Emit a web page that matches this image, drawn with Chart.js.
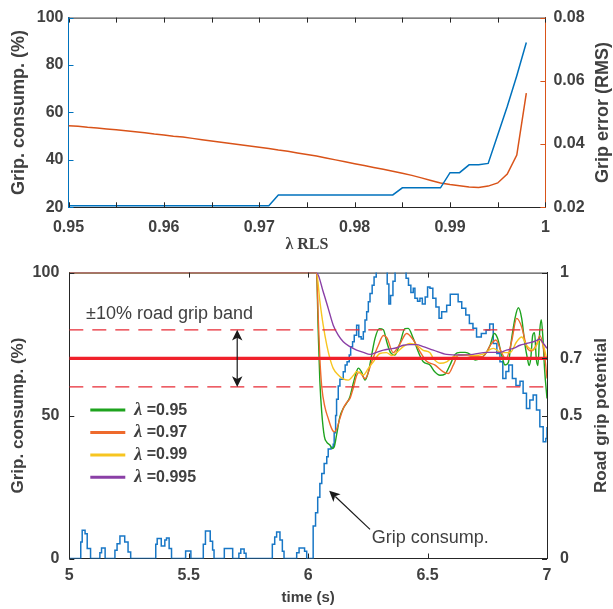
<!DOCTYPE html>
<html>
<head>
<meta charset="utf-8">
<script src="https://cdn.jsdelivr.net/npm/chart.js@4.4.1/dist/chart.umd.min.js"></script>
<style>
    html, body { margin: 0; padding: 0; background: #fff; }
    body { width: 613px; height: 609px; position: relative; overflow: hidden; }
    .panel { position: absolute; left: 0; width: 613px; }
    #topPanel { top: 0; height: 262px; }
    #bottomPanel { top: 250px; height: 359px; }
</style>
</head>
<body>
<div class="panel" id="topPanel"><canvas id="chartTop"></canvas></div>
<div class="panel" id="bottomPanel"><canvas id="chartBottom"></canvas></div>
<script>
// ---- top panel: sweep of the RLS forgetting factor ----
const lambdaRls = [0.950, 0.951, 0.952, 0.953, 0.954, 0.955, 0.956, 0.957, 0.958, 0.959,
    0.960, 0.961, 0.962, 0.963, 0.964, 0.965, 0.966, 0.967, 0.968, 0.969,
    0.970, 0.971, 0.972, 0.973, 0.974, 0.975, 0.976, 0.977, 0.978, 0.979,
    0.980, 0.981, 0.982, 0.983, 0.984, 0.985, 0.986, 0.987, 0.988, 0.989,
    0.990, 0.991, 0.992, 0.993, 0.994, 0.995, 0.996, 0.997, 0.998];
const gripConsTop = [20.7, 20.7, 20.7, 20.7, 20.7, 20.7, 20.7, 20.7, 20.7, 20.7,
    20.7, 20.7, 20.7, 20.7, 20.7, 20.7, 20.7, 20.7, 20.7, 20.7,
    20.7, 20.7, 25.2, 25.2, 25.2, 25.2, 25.2, 25.2, 25.2, 25.2,
    25.2, 25.2, 25.2, 25.2, 25.2, 28.2, 28.2, 28.2, 28.2, 28.2,
    34.6, 34.6, 37.9, 37.9, 38.5, 50.5, 62.5, 75.5, 89.5];
const gripErrRms = [0.0458, 0.0456, 0.0453, 0.0451, 0.0448, 0.0445, 0.0442, 0.0439, 0.0436, 0.0432,
    0.0429, 0.0425, 0.0422, 0.0418, 0.0414, 0.0410, 0.0406, 0.0402, 0.0398, 0.0394,
    0.0390, 0.0386, 0.0381, 0.0377, 0.0372, 0.0367, 0.0362, 0.0356, 0.0350, 0.0344,
    0.0338, 0.0332, 0.0326, 0.0320, 0.0314, 0.0308, 0.0301, 0.0293, 0.0285, 0.0277,
    0.0272, 0.0268, 0.0264, 0.0263, 0.0267, 0.0277, 0.0305, 0.0365, 0.0561];

// ---- bottom panel: time response ----
const timeRange = [5, 7];
const tGrip = [5, 5.048, 5.054, 5.066, 5.075, 5.089, 5.128, 5.135, 5.150, 5.191,
    5.200, 5.212, 5.232, 5.246, 5.257, 5.362, 5.368, 5.385, 5.400, 5.407,
    5.418, 5.428, 5.487, 5.509, 5.561, 5.570, 5.590, 5.600, 5.606, 5.649,
    5.684, 5.710, 5.718, 5.732, 5.740, 5.850, 5.860, 5.868, 5.882, 5.892,
    5.899, 5.952, 5.962, 5.985, 5.994, 6.021, 6.031, 6.040, 6.049, 6.057,
    6.067, 6.078, 6.084, 6.096, 6.105, 6.109, 6.115, 6.119, 6.126, 6.133,
    6.147, 6.155, 6.163, 6.172, 6.178, 6.186, 6.193, 6.203, 6.212, 6.222,
    6.231, 6.238, 6.245, 6.252, 6.259, 6.268, 6.276, 6.285, 6.331, 6.338,
    6.345, 6.355, 6.364, 6.410, 6.420, 6.430, 6.440, 6.447, 6.458, 6.468,
    6.478, 6.490, 6.500, 6.510, 6.522, 6.535, 6.548, 6.559, 6.580, 6.595,
    6.615, 6.628, 6.643, 6.660, 6.675, 6.690, 6.705, 6.725, 6.745, 6.760,
    6.775, 6.790, 6.803, 6.815, 6.828, 6.840, 6.855, 6.870, 6.887, 6.900,
    6.914, 6.928, 6.942, 6.956, 6.970, 6.984, 6.995, 7];
const vGrip = [0, 5.8, 9.9, 8.7, 3.5, 0, 2.0, 3.7, 0, 2.9,
    5.2, 7.9, 5.8, 2.3, 0, 5.0, 7.0, 4.4, 6.5, 7.2,
    3.5, 0, 2.6, 0, 5.0, 9.6, 6.0, 3.0, 0, 3.5,
    0, 1.8, 3.3, 1.8, 0, 5.0, 7.5, 9.3, 6.5, 2.5,
    0, 2.0, 3.7, 2.5, 0, 11.4, 16, 21.4, 26.2, 29.7,
    33.2, 35.6, 38.3, 38.9, 40, 44, 50, 55.7, 60.3, 62.7,
    65.3, 67.7, 68.8, 71.2, 74.1, 75.8, 78.1, 81.6, 77.6, 76.8,
    79.3, 83.4, 86.3, 89.8, 92.7, 95.6, 98.5, 102, 96, 89,
    92, 97, 102, 98, 95.6, 93, 94.5, 91, 90, 91,
    89, 91.5, 95, 94.5, 91, 88, 84, 86.3, 88.6, 92.4,
    92.4, 89.8, 87.5, 85.2, 82.2, 80.5, 77.5, 78.7, 79.9, 82,
    75.2, 71.7, 68.8, 63, 65.4, 67.7, 63, 60.5, 62, 57.8,
    52.5, 55.4, 57.2, 51.9, 46.1, 40.8, 42, 46];

const tL095 = [5, 6.035, 6.042, 6.049, 6.057, 6.068, 6.077, 6.091, 6.101, 6.109,
    6.119, 6.133, 6.147, 6.161, 6.175, 6.189, 6.203, 6.21, 6.224, 6.238,
    6.252, 6.266, 6.28, 6.298, 6.315, 6.329, 6.345, 6.363, 6.384, 6.405,
    6.419, 6.44, 6.461, 6.482, 6.51, 6.53, 6.552, 6.573, 6.594, 6.615,
    6.636, 6.657, 6.678, 6.699, 6.72, 6.741, 6.762, 6.779, 6.793, 6.81,
    6.824, 6.838, 6.852, 6.866, 6.88, 6.894, 6.908, 6.918, 6.925, 6.932,
    6.94, 6.948, 6.955, 6.962, 6.97, 6.976, 6.983, 6.99, 7];
const vL095 = [1, 1, 0.80, 0.62, 0.51, 0.426, 0.408, 0.397, 0.385, 0.39,
    0.432, 0.496, 0.525, 0.543, 0.566, 0.613, 0.655, 0.666, 0.652, 0.624,
    0.652, 0.712, 0.77, 0.804, 0.80, 0.758, 0.72, 0.712, 0.752, 0.804,
    0.805, 0.77, 0.723, 0.688, 0.677, 0.653, 0.641, 0.645, 0.677, 0.714,
    0.721, 0.721, 0.714, 0.694, 0.70, 0.714, 0.746, 0.787, 0.77, 0.712,
    0.677, 0.685, 0.77, 0.84, 0.877, 0.84, 0.746, 0.70, 0.675, 0.70,
    0.78, 0.79, 0.70, 0.675, 0.80, 0.835, 0.77, 0.66, 0.56];

const tL097 = [5, 6.035, 6.042, 6.049, 6.057, 6.07, 6.084, 6.098, 6.109, 6.119,
    6.133, 6.147, 6.161, 6.175, 6.19, 6.203, 6.215, 6.238, 6.266, 6.294,
    6.315, 6.33, 6.356, 6.384, 6.412, 6.44, 6.468, 6.496, 6.53, 6.566,
    6.587, 6.608, 6.629, 6.66, 6.69, 6.73, 6.768, 6.786, 6.81, 6.828,
    6.852, 6.873, 6.894, 6.915, 6.935, 6.957, 6.97, 6.99, 7];
const vL097 = [1, 1, 0.85, 0.70, 0.60, 0.53, 0.49, 0.455, 0.443, 0.452,
    0.49, 0.525, 0.545, 0.56, 0.60, 0.64, 0.652, 0.629, 0.688, 0.746,
    0.78, 0.772, 0.72, 0.75, 0.787, 0.765, 0.724, 0.69, 0.677, 0.653,
    0.647, 0.677, 0.712, 0.712, 0.706, 0.706, 0.752, 0.764, 0.72, 0.698,
    0.76, 0.84, 0.81, 0.741, 0.726, 0.75, 0.779, 0.71, 0.63];

const tL099 = [5, 6.035, 6.049, 6.063, 6.078, 6.091, 6.105, 6.126, 6.147, 6.168,
    6.189, 6.203, 6.217, 6.231, 6.252, 6.273, 6.3, 6.328, 6.35, 6.37,
    6.398, 6.426, 6.454, 6.482, 6.51, 6.524, 6.552, 6.58, 6.608, 6.65,
    6.69, 6.73, 6.775, 6.81, 6.845, 6.873, 6.894, 6.915, 6.943, 6.97,
    6.985, 7];
const vL099 = [1, 1, 0.90, 0.816, 0.746, 0.70, 0.665, 0.642, 0.628, 0.624,
    0.64, 0.654, 0.648, 0.642, 0.665, 0.688, 0.717, 0.72, 0.71, 0.72,
    0.741, 0.752, 0.746, 0.728, 0.72, 0.70, 0.683, 0.688, 0.706, 0.712,
    0.71, 0.714, 0.735, 0.72, 0.72, 0.758, 0.775, 0.745, 0.729, 0.764,
    0.745, 0.694];

const tL0995 = [5, 6.035, 6.063, 6.084, 6.105, 6.126, 6.147, 6.175, 6.203, 6.231,
    6.259, 6.287, 6.315, 6.343, 6.37, 6.398, 6.426, 6.454, 6.482, 6.524,
    6.58, 6.64, 6.69, 6.747, 6.803, 6.83, 6.859, 6.887, 6.915, 6.95,
    6.97, 6.985, 7];
const vL0995 = [1, 1, 0.933, 0.875, 0.816, 0.781, 0.758, 0.741, 0.729, 0.721,
    0.714, 0.721, 0.729, 0.733, 0.737, 0.746, 0.748, 0.748, 0.741, 0.729,
    0.714, 0.712, 0.714, 0.721, 0.721, 0.729, 0.735, 0.746, 0.752, 0.76,
    0.767, 0.752, 0.735];

const legendLabels = ['λ =0.95', 'λ =0.97', 'λ =0.99', 'λ =0.995'];
const lambdaColors = ['#1ea31e', '#ee6a2c', '#f7c520', '#8a3fa6'];
const bandCenter = 0.7;
const bandHalf = 0.1;
const roadTicks = [0, 0.5, 0.7, 1];

const FONT = '"Liberation Sans", Arial, Helvetica, sans-serif';
const SERIF = '"Liberation Serif", "Times New Roman", serif';
const TEXT = '#404040';
const DARK = '#262626';
const BLUE = '#0072BD';
const ORANGE = '#D95319';

function pts(xs, ys) {
    return xs.map((x, i) => ({ x: x, y: ys[i] }));
}

// MATLAB style ticks pointing into the plot, plus the top edge of the box
const innerTicks = {
    id: 'innerTicks',
    beforeDatasetsDraw(chart, args, o) {
        const { ctx, chartArea: a } = chart;
        ctx.save();
        ctx.strokeStyle = o.boxColor || DARK;
        ctx.lineWidth = 1;
        ctx.beginPath();
        ctx.moveTo(a.left, a.top + 0.5);
        ctx.lineTo(a.right, a.top + 0.5);
        ctx.stroke();
        ctx.restore();
    },
    afterDatasetsDraw(chart, args, o) {
        const { ctx, chartArea: a } = chart;
        const len = 5;
        ctx.save();
        ctx.lineWidth = 1;
        const x = chart.scales.x;
        ctx.strokeStyle = o.boxColor || DARK;
        x.ticks.forEach(t => {
            const px = Math.round(x.getPixelForValue(t.value)) + 0.5;
            ctx.beginPath();
            ctx.moveTo(px, a.bottom);
            ctx.lineTo(px, a.bottom - len);
            ctx.moveTo(px, a.top);
            ctx.lineTo(px, a.top + len);
            ctx.stroke();
        });
        ['y', 'y1'].forEach(id => {
            const s = chart.scales[id];
            ctx.strokeStyle = s.options.border.color;
            s.ticks.forEach(t => {
                const py = Math.round(s.getPixelForValue(t.value)) + 0.5;
                ctx.beginPath();
                if (s.position === 'left') {
                    ctx.moveTo(a.left, py);
                    ctx.lineTo(a.left + len, py);
                } else {
                    ctx.moveTo(a.right, py);
                    ctx.lineTo(a.right - len, py);
                }
                ctx.stroke();
            });
        });
        ctx.restore();
    }
};

// right hand y title, reading bottom to top like the left one
const sideTitle = {
    id: 'sideTitle',
    afterDraw(chart, args, o) {
        if (!o.text) return;
        const { ctx, chartArea: a } = chart;
        ctx.save();
        ctx.translate(o.x, (a.top + a.bottom) / 2);
        ctx.rotate(-Math.PI / 2);
        ctx.font = o.font;
        ctx.fillStyle = TEXT;
        ctx.textAlign = 'center';
        ctx.textBaseline = 'middle';
        ctx.fillText(o.text, 0, 0);
        ctx.restore();
    }
};

function arrowHead(ctx, x0, y0, x1, y1) {
    const ang = Math.atan2(y1 - y0, x1 - x0);
    const L = 12, W = 0.45, notch = 8;
    ctx.beginPath();
    ctx.moveTo(x1, y1);
    ctx.lineTo(x1 - L * Math.cos(ang - W), y1 - L * Math.sin(ang - W));
    ctx.lineTo(x1 - notch * Math.cos(ang), y1 - notch * Math.sin(ang));
    ctx.lineTo(x1 - L * Math.cos(ang + W), y1 - L * Math.sin(ang + W));
    ctx.closePath();
    ctx.fill();
}

// annotations and the legend inside the lower plot
const notes = {
    id: 'notes',
    afterDatasetsDraw(chart, args, o) {
        const { ctx, chartArea: a } = chart;
        const x = chart.scales.x, y = chart.scales.y, y1 = chart.scales.y1;
        ctx.save();
        ctx.fillStyle = TEXT;
        ctx.font = '18px ' + FONT;
        ctx.textAlign = 'left';
        ctx.textBaseline = 'middle';
        ctx.fillText('±10% road grip band', x.getPixelForValue(5.07), y.getPixelForValue(85.5));
        ctx.fillText('Grip consump.', x.getPixelForValue(6.266), y.getPixelForValue(7.1));

        ctx.strokeStyle = '#1a1a1a';
        ctx.fillStyle = '#1a1a1a';
        ctx.lineWidth = 1.2;
        const ax = x.getPixelForValue(5.703);
        const ay0 = y1.getPixelForValue(bandCenter + bandHalf);
        const ay1 = y1.getPixelForValue(bandCenter - bandHalf);
        ctx.beginPath();
        ctx.moveTo(ax, ay0 + 6);
        ctx.lineTo(ax, ay1 - 6);
        ctx.stroke();
        arrowHead(ctx, ax, ay1, ax, ay0);
        arrowHead(ctx, ax, ay0, ax, ay1);

        const fx = x.getPixelForValue(6.259), fy = y.getPixelForValue(10.2);
        const tx = x.getPixelForValue(6.088), ty = y.getPixelForValue(23.7);
        ctx.beginPath();
        ctx.moveTo(fx, fy);
        ctx.lineTo(tx + (fx - tx) * 0.15, ty + (fy - ty) * 0.15);
        ctx.stroke();
        arrowHead(ctx, fx, fy, tx, ty);

        // legend
        const lx = a.left + 21, ly = a.top + 137.5, dy = 22.4;
        legendLabels.forEach((lab, i) => {
            const yy = ly + i * dy;
            ctx.strokeStyle = lambdaColors[i];
            ctx.lineWidth = 3;
            ctx.beginPath();
            ctx.moveTo(lx, yy);
            ctx.lineTo(lx + 35, yy);
            ctx.stroke();
            ctx.fillStyle = TEXT;
            ctx.font = 'italic bold 18px ' + SERIF;
            ctx.fillText(lab[0], lx + 44, yy);
            const w = ctx.measureText(lab[0]).width;
            ctx.font = 'bold 16px ' + FONT;
            ctx.fillText(lab.slice(1), lx + 44 + w, yy);
        });
        ctx.restore();
    }
};

const tickFont = { family: FONT, size: 16, weight: 'bold' };

function addTopChart() {
    const ctx = document.getElementById('chartTop');

    const data = {
        datasets: [
            {
                data: pts(lambdaRls, gripConsTop),
                yAxisID: 'y',
                borderColor: BLUE,
                borderWidth: 1.5,
                pointRadius: 0
            },
            {
                data: pts(lambdaRls, gripErrRms),
                yAxisID: 'y1',
                borderColor: ORANGE,
                borderWidth: 1.5,
                pointRadius: 0
            }
        ]
    };

    const options = {
        responsive: true,
        maintainAspectRatio: false,
        animation: false,
        events: [],
        layout: { padding: { top: 13.3, left: 0, right: 0, bottom: 0 } },
        plugins: {
            legend: { display: false },
            tooltip: { enabled: false },
            innerTicks: { boxColor: DARK },
            sideTitle: { text: 'Grip error (RMS)', x: 603, font: 'bold 18px ' + FONT }
        },
        scales: {
            x: {
                type: 'linear',
                min: 0.95,
                max: 1,
                grid: { display: false, drawTicks: false },
                border: { display: true, color: DARK, width: 1 },
                ticks: {
                    stepSize: 0.005,
                    autoSkip: false,
                    maxRotation: 0,
                    padding: 10.5,
                    color: TEXT,
                    font: tickFont,
                    callback: function (val) {
                        return Math.round(val * 200) % 2 === 0 ? String(+val.toFixed(2)) : '';
                    }
                },
                title: {
                    display: true,
                    text: 'λ RLS',
                    color: TEXT,
                    font: { family: SERIF, size: 16, weight: 'bold' },
                    padding: { top: 0, bottom: 7.5 }
                },
                afterFit: s => { s.height = 54.7; }
            },
            y: {
                position: 'left',
                min: 20,
                max: 100,
                grid: { display: false, drawTicks: false },
                border: { display: true, color: BLUE, width: 1 },
                ticks: { stepSize: 20, padding: 5, color: TEXT, font: tickFont },
                title: {
                    display: true,
                    text: 'Grip. consump. (%)',
                    color: TEXT,
                    font: { family: FONT, size: 18, weight: 'bold' },
                    padding: { top: 8.5, bottom: 0 }
                },
                afterFit: s => { s.width = 68.5; }
            },
            y1: {
                position: 'right',
                min: 0.02,
                max: 0.08,
                grid: { display: false, drawTicks: false },
                border: { display: true, color: ORANGE, width: 1 },
                ticks: {
                    stepSize: 0.02,
                    padding: 8,
                    color: TEXT,
                    font: tickFont,
                    callback: v => v.toFixed(2)
                },
                afterFit: s => { s.width = 67.6; }
            }
        }
    };

    new Chart(ctx, {
        type: 'line',
        data: data,
        options: options,
        plugins: [innerTicks, sideTitle]
    });
}

function addBottomChart() {
    const ctx = document.getElementById('chartBottom');
    const band = v => timeRange.map(t => ({ x: t, y: v }));

    const lambdaSeries = [[tL095, vL095], [tL097, vL097], [tL099, vL099], [tL0995, vL0995]];
    const lambdaSets = lambdaSeries.map((s, i) => ({
        label: legendLabels[i],
        data: pts(s[0], s[1]),
        yAxisID: 'y1',
        borderColor: lambdaColors[i],
        borderWidth: 1.4,
        pointRadius: 0,
        cubicInterpolationMode: 'monotone'
    })).reverse();

    const data = {
        datasets: [
            {
                data: band(bandCenter),
                yAxisID: 'y1',
                borderColor: '#f0202a',
                borderWidth: 3.2,
                pointRadius: 0
            },
            {
                data: band(bandCenter + bandHalf),
                yAxisID: 'y1',
                borderColor: '#e82a34',
                borderWidth: 1.2,
                borderDash: [14, 9],
                pointRadius: 0
            },
            {
                data: band(bandCenter - bandHalf),
                yAxisID: 'y1',
                borderColor: '#e82a34',
                borderWidth: 1.2,
                borderDash: [14, 9],
                pointRadius: 0
            },
            ...lambdaSets,
            {
                data: pts(tGrip, vGrip),
                yAxisID: 'y',
                borderColor: '#1877c6',
                borderWidth: 1.5,
                pointRadius: 0,
                stepped: true
            }
        ]
    };

    const options = {
        responsive: true,
        maintainAspectRatio: false,
        animation: false,
        events: [],
        layout: { padding: { top: 22.5, left: 0, right: 0, bottom: 0 } },
        plugins: {
            legend: { display: false },
            tooltip: { enabled: false },
            innerTicks: { boxColor: DARK },
            sideTitle: { text: 'Road grip potential', x: 601, font: 'bold 17px ' + FONT }
        },
        scales: {
            x: {
                type: 'linear',
                min: timeRange[0],
                max: timeRange[1],
                grid: { display: false, drawTicks: false },
                border: { display: true, color: DARK, width: 1 },
                ticks: {
                    stepSize: 0.5,
                    autoSkip: false,
                    maxRotation: 0,
                    padding: 7.5,
                    color: TEXT,
                    font: tickFont,
                    callback: v => String(+v.toFixed(1))
                },
                title: {
                    display: true,
                    text: 'time (s)',
                    color: TEXT,
                    font: { family: FONT, size: 15, weight: 'bold' },
                    padding: { top: 0, bottom: 2 }
                },
                afterFit: s => { s.height = 50.5; }
            },
            y: {
                position: 'left',
                min: 0,
                max: 100,
                grid: { display: false, drawTicks: false },
                border: { display: true, color: DARK, width: 1 },
                ticks: { stepSize: 50, padding: 10, color: TEXT, font: tickFont },
                title: {
                    display: true,
                    text: 'Grip. consump. (%)',
                    color: TEXT,
                    font: { family: FONT, size: 17, weight: 'bold' },
                    padding: { top: 8, bottom: 0 }
                },
                afterFit: s => { s.width = 69.3; }
            },
            y1: {
                position: 'right',
                min: 0,
                max: 1,
                grid: { display: false, drawTicks: false },
                border: { display: true, color: DARK, width: 1 },
                afterBuildTicks: s => { s.ticks = roadTicks.map(v => ({ value: v })); },
                ticks: { padding: 13, color: TEXT, font: tickFont, callback: v => String(v) },
                afterFit: s => { s.width = 66; }
            }
        }
    };

    new Chart(ctx, {
        type: 'line',
        data: data,
        options: options,
        plugins: [innerTicks, sideTitle, notes]
    });
}

addTopChart();
addBottomChart();
</script>
</body>
</html>
